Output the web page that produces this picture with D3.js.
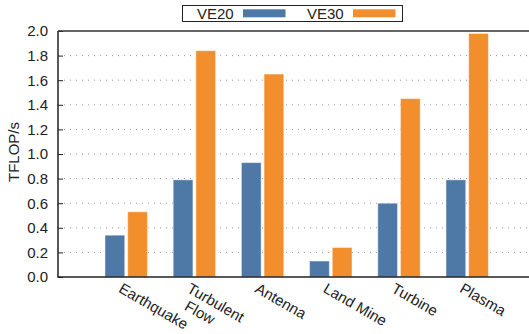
<!DOCTYPE html>
<html>
<head>
<meta charset="utf-8">
<script src="https://cdn.jsdelivr.net/npm/d3@7"></script>
<style>
  html, body { margin: 0; padding: 0; background: #fff; }
  svg { display: block; font-family: "Liberation Sans", Arial, Helvetica, sans-serif; }
</style>
</head>
<body>
<svg id="chart" width="529" height="334"></svg>
<script>
// Workloads along the x axis (line breaks split multi-line labels)
const categories = ["Earthquake", "Turbulent\nFlow", "Antenna", "Land Mine", "Turbine", "Plasma"];
const seriesNames = ["VE20", "VE30"];
const ve20 = [0.34, 0.79, 0.93, 0.13, 0.60, 0.79];
const ve30 = [0.53, 1.84, 1.65, 0.24, 1.45, 1.98];
const yTicks = [0.0, 0.2, 0.4, 0.6, 0.8, 1.0, 1.2, 1.4, 1.6, 1.8, 2.0];
const colors = { VE20: "#4e79a7", VE30: "#f28e2b" };

const svg = d3.select("#chart");
const plotLeft = 58, plotTop = 31, plotBottom = 277;
const groupStep = 68.2;

const x = d3.scaleLinear().domain([0, categories.length + 1])
  .range([plotLeft, plotLeft + groupStep * (categories.length + 1)]);
const y = d3.scaleLinear().domain([0, 2.0]).range([plotBottom, plotTop]);
const inner = d3.scaleBand().domain(seriesNames).range([-0.311, 0.311]).paddingInner(0.13);

// dotted horizontal grid
svg.append("g")
  .selectAll("line")
  .data(yTicks.filter(t => t > 0 && t < 2.0))
  .join("line")
  .attr("x1", plotLeft).attr("x2", 529)
  .attr("y1", d => y(d)).attr("y2", d => y(d))
  .attr("stroke", "#9a9a9a").attr("stroke-width", 1)
  .attr("stroke-dasharray", "1,5");

// bars
const rows = categories.map((c, i) => ({ c, i, VE20: ve20[i], VE30: ve30[i] }));
const groups = svg.append("g").selectAll("g")
  .data(rows).join("g");
groups.selectAll("rect")
  .data(d => seriesNames.map(s => ({ s, i: d.i, v: d[s] })))
  .join("rect")
  .attr("x", d => x(d.i + 1 + inner(d.s)))
  .attr("width", d => x(d.i + 1 + inner(d.s) + inner.bandwidth()) - x(d.i + 1 + inner(d.s)))
  .attr("y", d => y(d.v))
  .attr("height", d => y(0) - y(d.v))
  .attr("fill", d => colors[d.s])
  .attr("stroke", "#ffffff").attr("stroke-opacity", 0.45).attr("stroke-width", 1);

// y axis
const yAxis = d3.axisLeft(y).tickValues(yTicks).tickFormat(d3.format(".1f")).tickSize(-5).tickPadding(10);
const gy = svg.append("g").attr("transform", `translate(${plotLeft},0)`).call(yAxis);
gy.select(".domain").remove();
gy.selectAll(".tick line").attr("stroke", "#222").attr("stroke-width", 1);
gy.selectAll(".tick text").attr("font-size", 15).attr("fill", "#222")
  .attr("font-family", "Liberation Sans, Arial, sans-serif");

// frame: left, top, bottom
svg.append("line").attr("x1", plotLeft).attr("x2", plotLeft).attr("y1", plotTop).attr("y2", plotBottom)
  .attr("stroke", "#222").attr("stroke-width", 1.5);
svg.append("line").attr("x1", plotLeft).attr("x2", 529).attr("y1", plotTop).attr("y2", plotTop)
  .attr("stroke", "#333").attr("stroke-width", 1.5);
svg.append("line").attr("x1", plotLeft - 0.75).attr("x2", 529).attr("y1", plotBottom).attr("y2", plotBottom)
  .attr("stroke", "#222").attr("stroke-width", 1.5);

// rotated category labels
const lab = svg.append("g").attr("font-size", 15).attr("fill", "#222");
categories.forEach((c, i) => {
  const ax = x(i + 1) - 8.5, ay = 291.5;
  c.split("\n").forEach((line, k) => {
    lab.append("text")
      .attr("transform", `translate(${ax - 2.3 * k},${ay + 17.7 * k}) rotate(30)`)
      .attr("text-anchor", "start")
      .text(line);
  });
});

// y axis title
svg.append("text")
  .attr("transform", "translate(19,152) rotate(-90)")
  .attr("text-anchor", "middle")
  .attr("font-size", 15).attr("fill", "#222")
  .text("TFLOP/s");

// legend
const leg = svg.append("g");
leg.append("rect").attr("x", 182.5).attr("y", 5.5).attr("width", 220).attr("height", 16)
  .attr("fill", "#fff").attr("stroke", "#222").attr("stroke-width", 1);
const legPos = [{ s: "VE20", tx: 197, sx: 243 }, { s: "VE30", tx: 307, sx: 353 }];
legPos.forEach(p => {
  leg.append("text").attr("x", p.tx).attr("y", 19).attr("font-size", 15).attr("fill", "#222").text(p.s);
  leg.append("rect").attr("x", p.sx).attr("y", 9.3).attr("width", 42.5).attr("height", 8)
    .attr("fill", colors[p.s]);
});
</script>
</body>
</html>
